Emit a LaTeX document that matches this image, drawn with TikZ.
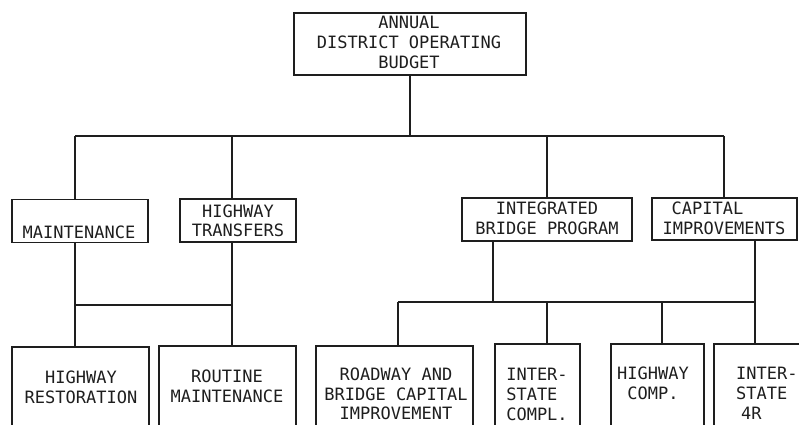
\documentclass[tikz,border=0pt]{standalone}
\usepackage{fontspec}
\setmonofont{DejaVu Sans Mono}
\definecolor{ink}{RGB}{30,30,30}
\begin{document}
\begin{tikzpicture}[x=1pt,y=-1pt,
  box/.style={draw=ink, line width=1.6pt, inner sep=0pt},
  lowbox/.style={box, anchor=north, minimum height=110pt},
  lbl/.style={font=\ttfamily\fontsize{17}{20}\selectfont, inner sep=0pt, align=center, text=ink},
  conn/.style={draw=ink, line width=1.6pt}]
\useasboundingbox (0,0) rectangle (799,424);
\fill[white] (0,0) rectangle (799,424);
\begin{scope}
\clip (0,0) rectangle (799,424);
% boxes
\node[box, minimum width=232pt, minimum height=62pt] (top) at (410,44) {};
\node[box, minimum width=136pt, minimum height=43pt] (maint) at (80,221) {};
\node[box, minimum width=116pt, minimum height=43pt] (ht) at (238,220.5) {};
\node[box, minimum width=170pt, minimum height=43pt] (ibp) at (547,219.5) {};
\node[box, minimum width=145pt, minimum height=42pt] (ci) at (724.5,219) {};
\node[lowbox, minimum width=137pt] (hr) at (80.5,346) {};
\node[lowbox, minimum width=137pt] (rm) at (227.5,345) {};
\node[lowbox, minimum width=157pt] (rb) at (394.5,345) {};
\node[lowbox, minimum width=85pt] (isc) at (537.5,343) {};
\node[lowbox, minimum width=93pt] (hc) at (657.5,343) {};
\node[lowbox, minimum width=92pt] (is4r) at (760,343) {};
% labels
\node[lbl] (ttop) at (409,42) {ANNUAL\\DISTRICT OPERATING\\BUDGET};
\node[lbl] (tmaint) at (79,232) {MAINTENANCE};
\node[lbl, font=\ttfamily\fontsize{17}{18.5}\selectfont] (tht) at (238,221) {HIGHWAY\\TRANSFERS};
\node[lbl] (tibp) at (547,218) {INTEGRATED\\BRIDGE PROGRAM};
\node[lbl] (tci) at (724,218) {CAPITAL\hspace*{33pt}\\IMPROVEMENTS};
\node[lbl] (thr) at (81,387) {HIGHWAY\\RESTORATION};
\node[lbl] (trm) at (227,386) {ROUTINE\\MAINTENANCE};
\node[lbl, font=\ttfamily\fontsize{17}{19.5}\selectfont] (trb) at (396,394) {ROADWAY AND\\BRIDGE CAPITAL\\IMPROVEMENT};
\node[lbl, align=left] (tisc) at (537,394) {INTER-\\STATE\\COMPL.};
\node[lbl] (thc) at (653,383) {HIGHWAY\\COMP.};
\node[lbl, align=left, anchor=west] (tis4r) at (736,393) {INTER-\\STATE\\\hspace*{5pt}4R};
% junction coordinates
\coordinate (j1) at (75,136);
\coordinate (j2) at (232,136);
\coordinate (j3) at (547,136);
\coordinate (j4) at (724,136);
\coordinate (k1) at (75,305);
\coordinate (k2) at (232,305);
\coordinate (m0) at (398,302);
\coordinate (m1) at (493,302);
\coordinate (m2) at (547,302);
\coordinate (m3) at (662,302);
\coordinate (m4) at (755,302);
% connectors
\draw[conn] (top.south) -- (top.south |- j1);
\draw[conn] (j1) -- (j4);
\draw[conn] (j1) -- (j1 |- maint.north);
\draw[conn] (j2) -- (j2 |- ht.north);
\draw[conn] (j3) -- (j3 |- ibp.north);
\draw[conn] (j4) -- (j4 |- ci.north);
\draw[conn] (k1 |- maint.south) -- (k1) -- (k2) -- (k2 |- ht.south);
\draw[conn] (k1) -- (k1 |- hr.north);
\draw[conn] (k2) -- (k2 |- rm.north);
\draw[conn] (m1 |- ibp.south) -- (m1);
\draw[conn] (m4 |- ci.south) -- (m4);
\draw[conn] (m0) -- (m4);
\draw[conn] (m0) -- (m0 |- rb.north);
\draw[conn] (m2) -- (m2 |- isc.north);
\draw[conn] (m3) -- (m3 |- hc.north);
\draw[conn] (m4) -- (m4 |- is4r.north);
\end{scope}
\end{tikzpicture}
\end{document}
